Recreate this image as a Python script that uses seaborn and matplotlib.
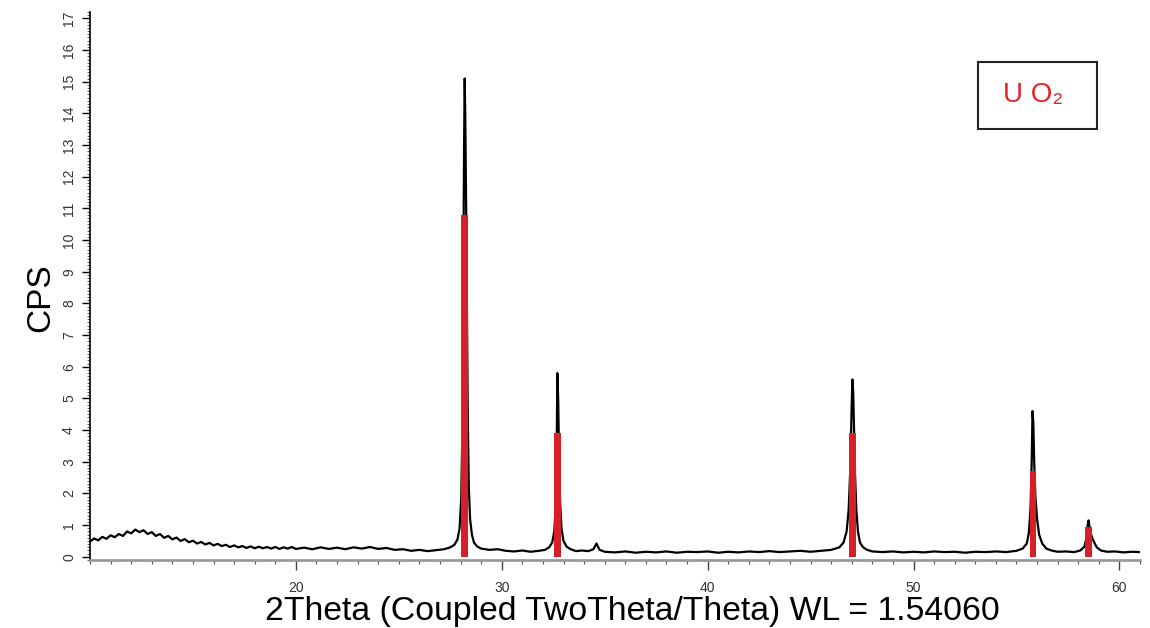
import numpy as np
import pandas as pd
import matplotlib
matplotlib.use("Agg")
import matplotlib.pyplot as plt
from matplotlib.patches import Rectangle
from matplotlib.ticker import MultipleLocator
import seaborn as sns

# Measured diffraction scan (2theta in degrees, intensity in CPS)
scan_2theta = [
    10.0, 10.2, 10.4, 10.6, 10.8, 11.0, 11.2, 11.4, 11.6, 11.8,
    12.0, 12.2, 12.4, 12.6, 12.8, 13.0, 13.2, 13.4, 13.6, 13.8,
    14.0, 14.2, 14.4, 14.6, 14.8, 15.0, 15.2, 15.4, 15.6, 15.8,
    16.0, 16.2, 16.4, 16.6, 16.8, 17.0, 17.2, 17.4, 17.6, 17.8,
    18.0, 18.2, 18.4, 18.6, 18.8, 19.0, 19.2, 19.4, 19.6, 19.8,
    20.0, 20.4, 20.8, 21.2, 21.6, 22.0, 22.4, 22.8, 23.2, 23.6,
    24.0, 24.4, 24.8, 25.2, 25.6, 26.0, 26.4, 26.8, 27.2, 27.5,
    27.7, 27.85, 27.95, 28.03, 28.09, 28.13, 28.17, 28.2, 28.23, 28.27,
    28.31, 28.35, 28.4, 28.46, 28.55, 28.65, 28.8,
    29.0, 29.4, 29.8, 30.2, 30.6, 31.0, 31.4, 31.8, 32.1, 32.3,
    32.45, 32.55, 32.62, 32.67, 32.7, 32.74, 32.78, 32.83, 32.9, 33.0,
    33.15, 33.35, 33.6, 33.9, 34.2, 34.45, 34.6, 34.75, 35.0,
    35.5, 36.0, 36.5, 37.0, 37.5, 38.0, 38.5, 39.0, 39.5, 40.0,
    40.5, 41.0, 41.5, 42.0, 42.5, 43.0, 43.5, 44.0, 44.5, 45.0,
    45.5, 46.0, 46.4, 46.6,
    46.75, 46.85, 46.93, 46.99, 47.03, 47.07, 47.11, 47.16, 47.22, 47.3,
    47.4, 47.55, 47.75, 48.0,
    48.5, 49.0, 49.5, 50.0, 50.5, 51.0, 51.5, 52.0, 52.5, 53.0,
    53.5, 54.0, 54.5, 55.0, 55.3, 55.5,
    55.6, 55.68, 55.74, 55.78, 55.82, 55.86, 55.92, 56.0, 56.1, 56.25,
    56.45, 56.7, 57.0, 57.4, 57.8, 58.1, 58.3,
    58.4, 58.46, 58.5, 58.55, 58.6, 58.68, 58.78, 58.9, 59.1, 59.4,
    59.8, 60.2, 60.6, 61.0,
]
scan_cps = [
    0.48, 0.58, 0.52, 0.63, 0.57, 0.68, 0.62, 0.72, 0.66, 0.80,
    0.74, 0.86, 0.78, 0.84, 0.72, 0.78, 0.66, 0.72, 0.60, 0.66,
    0.55, 0.61, 0.50, 0.56, 0.46, 0.51, 0.42, 0.47, 0.39, 0.44,
    0.36, 0.41, 0.34, 0.38, 0.31, 0.36, 0.30, 0.34, 0.28, 0.33,
    0.27, 0.32, 0.27, 0.31, 0.26, 0.31, 0.25, 0.30, 0.26, 0.31,
    0.25, 0.29, 0.24, 0.30, 0.25, 0.29, 0.24, 0.30, 0.26, 0.31,
    0.25, 0.28, 0.22, 0.24, 0.19, 0.22, 0.18, 0.21, 0.24, 0.30,
    0.38, 0.55, 0.9, 1.8, 4.2, 8.6, 13.0, 15.1, 13.8, 11.0,
    7.8, 4.4, 2.2, 1.2, 0.7, 0.45, 0.33,
    0.26, 0.22, 0.24, 0.19, 0.17, 0.20, 0.16, 0.19, 0.22, 0.30,
    0.45, 0.8, 1.6, 3.6, 5.8, 5.0, 3.3, 1.8, 0.9, 0.5,
    0.32, 0.24, 0.18, 0.20, 0.18, 0.24, 0.42, 0.22, 0.16,
    0.14, 0.17, 0.13, 0.16, 0.14, 0.17, 0.13, 0.16, 0.15, 0.17,
    0.13, 0.16, 0.14, 0.17, 0.15, 0.18, 0.15, 0.17, 0.19, 0.16,
    0.19, 0.22, 0.30, 0.45,
    0.8, 1.5, 2.8, 4.6, 5.6, 5.2, 4.0, 2.6, 1.5, 0.8,
    0.45, 0.30, 0.22, 0.17,
    0.15, 0.17, 0.14, 0.16, 0.14, 0.17, 0.15, 0.16, 0.13, 0.16,
    0.15, 0.17, 0.15, 0.19, 0.26, 0.42,
    0.75, 1.5, 3.0, 4.6, 4.2, 3.0, 1.9, 1.2, 0.7, 0.42,
    0.26, 0.20, 0.16, 0.17, 0.15, 0.20, 0.32,
    0.6, 1.0, 1.15, 0.95, 0.75, 0.6, 0.45, 0.30, 0.20, 0.16,
    0.17, 0.14, 0.16, 0.15,
]

# Reference pattern sticks for UO2
ref_2theta = [28.2, 32.7, 47.05, 55.8, 58.5]
ref_cps = [10.8, 3.9, 3.9, 2.7, 0.95]

x_major = [20, 30, 40, 50, 60]
y_major = list(range(0, 18))

phase_label = "U O\u2082"
x_title = "2Theta (Coupled TwoTheta/Theta) WL = 1.54060"
y_title = "CPS"

sns.set_style("white")
plt.rcParams["font.family"] = ["Liberation Sans", "DejaVu Sans"]

W, H = 1150, 628
fig = plt.figure(figsize=(W / 100, H / 100), dpi=100)
ax = fig.add_axes([90 / W, 1 - 560 / H, (1140 - 90) / W, (560 - 12) / H])

scan = pd.DataFrame({"two_theta": scan_2theta, "cps": scan_cps})
sns.lineplot(data=scan, x="two_theta", y="cps", ax=ax, color="black",
             linewidth=1.6, sort=False, zorder=2)

ax.bar(ref_2theta, ref_cps, width=0.33, color="#d5202a", linewidth=0,
       zorder=3, align="center")

ax.set_xlim(10, 61)
ax.set_ylim(-0.1, 17.2)
ax.set_xlabel("")
ax.set_ylabel("")

for side in ("top", "right"):
    ax.spines[side].set_visible(False)
ax.spines["left"].set_color("black")
ax.spines["left"].set_linewidth(1.2)
ax.spines["bottom"].set_color("#9a9a9a")
ax.spines["bottom"].set_linewidth(2.0)

ax.set_xticks(x_major)
ax.set_xticklabels([str(v) for v in x_major])
ax.xaxis.set_minor_locator(MultipleLocator(1))
ax.set_yticks(y_major)
ax.set_yticklabels([str(v) for v in y_major], rotation=90, va="center")
ax.yaxis.set_minor_locator(MultipleLocator(0.1))

ax.tick_params(axis="x", which="major", direction="out", length=7, width=1.0,
               color="#444444", labelsize=10, labelcolor="#333333", pad=8,
               bottom=True)
ax.tick_params(axis="x", which="minor", direction="out", length=3, width=0.8,
               color="#555555", bottom=True)
ax.tick_params(axis="y", which="major", direction="out", length=6, width=1.0,
               color="black", labelsize=10, labelcolor="#333333", pad=4,
               left=True)
ax.tick_params(axis="y", which="minor", direction="out", length=2.5, width=0.6,
               color="#444444", left=True)

fig.text(41 / W, 1 - 298 / H, y_title, rotation=90, fontsize=24,
         ha="center", va="center", color="black")
fig.text(265 / W, 1 - 620 / H, x_title, fontsize=24.3, ha="left",
         va="baseline", color="black")

# Phase legend box
fig.add_artist(Rectangle((978 / W, 1 - 129 / H), (1097 - 978) / W,
                         (129 - 62) / H, transform=fig.transFigure,
                         fill=False, edgecolor="#222222", linewidth=1.5))
fig.text(1033 / W, 1 - 95 / H, phase_label, fontsize=20, color="#e0242a",
         ha="center", va="center")

fig.savefig("out.png", dpi=100)
